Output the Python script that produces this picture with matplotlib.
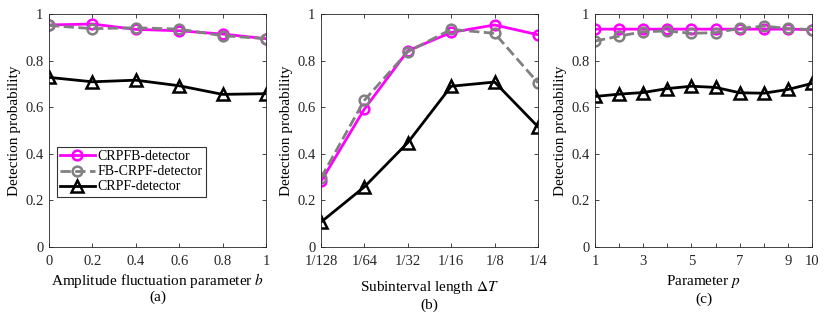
import matplotlib
matplotlib.use("Agg")
import matplotlib.pyplot as plt

plt.rcParams['font.family'] = ['Liberation Serif', 'DejaVu Serif']
plt.rcParams['mathtext.fontset'] = 'stix'
plt.rcParams['font.size'] = 11

# ---- data ----
b_vals = [0, 0.2, 0.4, 0.6, 0.8, 1]
a_crpfb = [0.953, 0.957, 0.934, 0.928, 0.914, 0.894]
a_fb = [0.951, 0.937, 0.941, 0.935, 0.907, 0.894]
a_crpf = [0.728, 0.709, 0.716, 0.692, 0.655, 0.658]

dt_vals = [1/128, 1/64, 1/32, 1/16, 1/8, 1/4]
dt_labels = ['1/128', '1/64', '1/32', '1/16', '1/8', '1/4']
b_crpfb = [0.282, 0.592, 0.842, 0.921, 0.953, 0.911]
b_fb = [0.297, 0.630, 0.838, 0.934, 0.917, 0.705]
b_crpf = [0.107, 0.258, 0.448, 0.690, 0.708, 0.516]

p_vals = [1, 2, 3, 4, 5, 6, 7, 8, 9, 10]
c_crpfb = [0.935, 0.935, 0.935, 0.935, 0.935, 0.935, 0.935, 0.935, 0.935, 0.933]
c_fb = [0.884, 0.905, 0.924, 0.927, 0.917, 0.920, 0.938, 0.948, 0.938, 0.933]
c_crpf = [0.646, 0.656, 0.663, 0.680, 0.690, 0.685, 0.662, 0.660, 0.676, 0.702]

labels = ['CRPFB-detector', 'FB-CRPF-detector', 'CRPF-detector']

fig = plt.figure(figsize=(8.31, 3.19), dpi=100)
lefts = [49/831, 321/831, 595/831]
axes = [fig.add_axes([l, 72/319, 217/831, 233/319]) for l in lefts]


def draw(ax, x, y1, y2, y3):
    ax.plot(x, y1, '-o', color='#ff00ff', lw=2, ms=7, mfc='none', mew=1.8, label=labels[0])
    ax.plot(x, y2, '--o', color='#808080', lw=2, ms=7, mfc='none', mew=1.8, label=labels[1])
    ax.plot(x, y3, '-^', color='black', lw=2, ms=8, mfc='none', mew=1.8, label=labels[2])
    ax.set_ylim(0, 1)
    ax.set_yticks([0, 0.2, 0.4, 0.6, 0.8, 1])
    ax.set_yticklabels(['0', '0.2', '0.4', '0.6', '0.8', '1'])
    ax.set_ylabel('Detection probability', labelpad=3)
    ax.tick_params(direction='in', top=True, right=True, length=3, width=0.6,
                   colors='#262626', labelcolor='#262626', labelsize=10.5)
    ax.tick_params(axis='x', pad=6)
    ax.tick_params(axis='y', pad=4)
    for s in ax.spines.values():
        s.set_linewidth(0.6)
        s.set_color('#262626')


def label(ax, text, tag, ylab, ytag):
    ax.set_xlabel(text, va='center')
    ax.xaxis.set_label_coords(0.5, ylab)
    ax.text(0.5, ytag, tag, transform=ax.transAxes, ha='center', va='center')


ax = axes[0]
draw(ax, b_vals, a_crpfb, a_fb, a_crpf)
ax.set_xlim(0, 1)
ax.set_xticks(b_vals)
ax.set_xticklabels(['0', '0.2', '0.4', '0.6', '0.8', '1'])
label(ax, 'Amplitude fluctuation parameter $b$', '(a)', -0.142, -0.215)
leg = ax.legend(loc='upper left', bbox_to_anchor=(0.035, 0.43), frameon=True, fancybox=False,
                edgecolor='black', handlelength=2.5, handletextpad=0.2, borderpad=0.25,
                labelspacing=0.15, borderaxespad=0, fontsize=10)
leg.get_frame().set_linewidth(0.8)

ax = axes[1]
draw(ax, dt_vals, b_crpfb, b_fb, b_crpf)
ax.set_xscale('log', base=2)
ax.set_xlim(1/128, 1/4)
ax.set_xticks(dt_vals)
ax.set_xticklabels(dt_labels)
ax.minorticks_off()
label(ax, 'Subinterval length $\\Delta T$', '(b)', -0.172, -0.249)

ax = axes[2]
draw(ax, p_vals, c_crpfb, c_fb, c_crpf)
ax.set_xlim(1, 10)
ax.set_xticks(p_vals)
ax.set_xticklabels(['1', '', '3', '', '5', '', '7', '', '9', '10'])
label(ax, 'Parameter $p$', '(c)', -0.146, -0.223)

fig.savefig('out.png', dpi=100)
